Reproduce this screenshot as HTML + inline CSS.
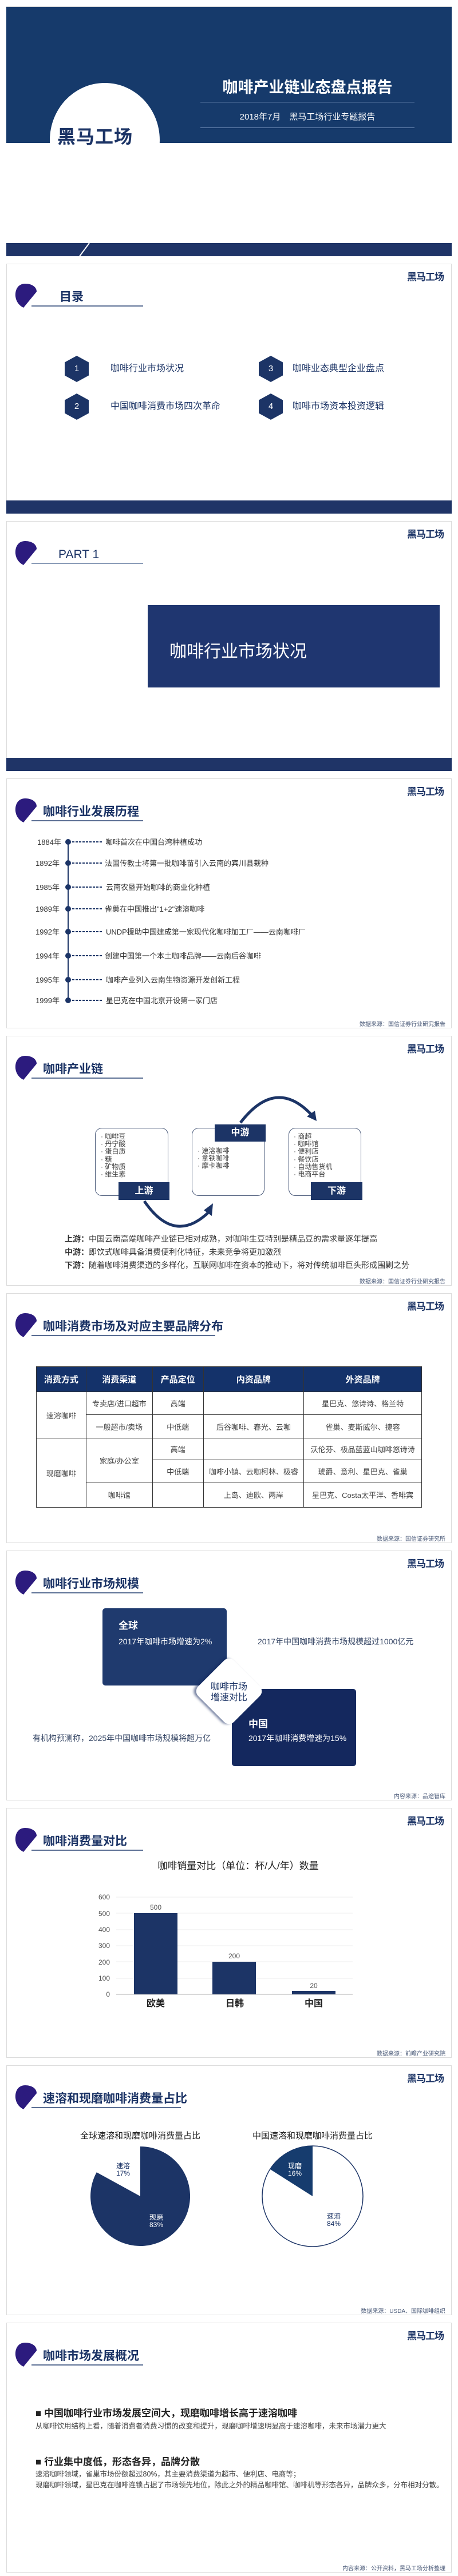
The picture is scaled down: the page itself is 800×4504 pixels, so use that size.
<!DOCTYPE html>
<html><head><meta charset="utf-8">
<style>
*{margin:0;padding:0;box-sizing:border-box}
body{width:800px;height:4504px;background:#fff;position:relative;overflow:hidden;font-family:"Liberation Sans","Noto Sans CJK SC",sans-serif;color:#333}
.s{position:absolute;left:0;width:800px;height:450px}
.fr{position:absolute;left:11px;top:11px;width:778px;height:437px;border:1px solid #dcdcdc}
.a{position:absolute;white-space:nowrap}
.band{position:absolute;left:11px;top:425px;width:778px;height:23px;background:#1f3467}
.logo{position:absolute;right:25px;top:20px;font-size:17px;font-weight:bold;color:#1c3466;letter-spacing:-1px}
.leaf{position:absolute;left:24px;top:44px}
.tt{position:absolute;left:75px;top:59px;font-size:21px;font-weight:bold;color:#1c3466;white-space:nowrap;line-height:1}
.ul{position:absolute;left:55px;top:84px;height:2px;background:#5b6f94;width:195px}
.src{position:absolute;right:22px;top:432px;font-size:10px;color:#4a5a78;white-space:nowrap}
.hex{position:absolute;width:42px;height:46px;background:#1c3466;clip-path:polygon(50% 0,100% 25%,100% 75%,50% 100%,0 75%,0 25%);color:#fff;font-size:15px;text-align:center;line-height:46px}
.it{position:absolute;font-size:16px;color:#1c3466;white-space:nowrap;line-height:1}
table{position:absolute;left:63px;top:139px;width:674px;border-collapse:collapse;font-size:13px;color:#444}
td,th{border:1px solid #333;text-align:center;padding:0}
th{background:#14326a;color:#fff;font-size:15px;height:44px}
</style></head><body>

<!-- Slide 1 -->
<div class="s" style="top:0">
<div class="fr"></div>
<div style="position:absolute;left:11px;top:12px;width:778px;height:238px;background:#163a6b"></div>
<div style="position:absolute;left:87px;top:145px;width:192px;height:200px;background:#fff;border-radius:50%"></div>
<div style="position:absolute;left:11px;top:250px;width:778px;height:175px;background:#fff"></div>
<div class="a" style="left:100px;top:214px;font-size:32px;font-weight:bold;color:#1c3466;letter-spacing:1px">黑马工场</div>
<div class="a" style="left:350px;top:131px;width:374px;text-align:center;font-size:27px;font-weight:bold;color:#fff">咖啡产业链业态盘点报告</div>
<div style="position:absolute;left:350px;top:178px;width:374px;height:1px;background:#8fa8d0"></div>
<div class="a" style="left:350px;top:193px;width:374px;text-align:center;font-size:15px;color:#fff">2018年7月　黑马工场行业专题报告</div>
<div style="position:absolute;left:350px;top:223px;width:374px;height:1px;background:#8fa8d0"></div>
<div class="band"></div>
<svg style="position:absolute;left:0;top:0" width="800" height="450"><line x1="156" y1="425" x2="139" y2="448" stroke="#fff" stroke-width="2"/></svg>
</div>

<!-- Slide 2 -->
<div class="s" style="top:450px">
<div class="fr"></div>
<div class="logo">黑马工场</div>
<svg class="leaf" width="44" height="46"><path d="M20 2 C8 2 2 12 3 24 C4 33 9 40 17 44 L40 16 C40 8 32 2 20 2 Z" fill="#2c1b7e"/></svg>
<div class="tt" style="left:104px">目录</div>
<div class="ul"></div>
<div class="hex" style="left:113px;top:172px">1</div>
<div class="it" style="left:193px;top:187px">咖啡行业市场状况</div>
<div class="hex" style="left:452px;top:172px">3</div>
<div class="it" style="left:511px;top:187px">咖啡业态典型企业盘点</div>
<div class="hex" style="left:113px;top:238px">2</div>
<div class="it" style="left:193px;top:253px">中国咖啡消费市场四次革命</div>
<div class="hex" style="left:452px;top:238px">4</div>
<div class="it" style="left:511px;top:253px">咖啡市场资本投资逻辑</div>
<div class="band"></div>
</div>

<!-- Slide 3 -->
<div class="s" style="top:900px">
<div class="fr"></div>
<div class="logo">黑马工场</div>
<svg class="leaf" width="44" height="46"><path d="M20 2 C8 2 2 12 3 24 C4 33 9 40 17 44 L40 16 C40 8 32 2 20 2 Z" fill="#2c1b7e"/></svg>
<div class="tt" style="left:102px;font-weight:normal">PART 1</div>
<div class="ul" style="background:#8a9bb8"></div>
<div style="position:absolute;left:258px;top:158px;width:510px;height:144px;background:#1f3670"></div>
<div class="a" style="left:296px;top:214px;font-size:30px;color:#fff">咖啡行业市场状况</div>
<div class="band"></div>
</div>

<!-- Slide 4 timeline -->
<div class="s" style="top:1350px">
<div class="fr"></div>
<div class="logo">黑马工场</div>
<svg class="leaf" width="44" height="46"><path d="M20 2 C8 2 2 12 3 24 C4 33 9 40 17 44 L40 16 C40 8 32 2 20 2 Z" fill="#2c1b7e"/></svg>
<div class="tt">咖啡行业发展历程</div>
<div class="ul"></div>
<svg style="position:absolute;left:0;top:0" width="800" height="450">
<line x1="119" y1="122" x2="119" y2="399" stroke="#1c3466" stroke-width="2"/>
<g fill="#1c3466">
<circle cx="119" cy="122" r="5"/><circle cx="119" cy="159" r="5"/><circle cx="119" cy="201" r="5"/><circle cx="119" cy="239" r="5"/><circle cx="119" cy="279" r="5"/><circle cx="119" cy="321" r="5"/><circle cx="119" cy="363" r="5"/><circle cx="119" cy="399" r="5"/>
</g>
<g stroke="#1c3466" stroke-width="2" stroke-dasharray="4 2">
<line x1="126" y1="122" x2="180" y2="122"/><line x1="126" y1="159" x2="180" y2="159"/><line x1="126" y1="201" x2="180" y2="201"/><line x1="126" y1="239" x2="180" y2="239"/><line x1="126" y1="279" x2="180" y2="279"/><line x1="126" y1="321" x2="180" y2="321"/><line x1="126" y1="363" x2="180" y2="363"/><line x1="126" y1="399" x2="180" y2="399"/>
</g>
<g font-size="13" fill="#333" font-family="Liberation Sans, Noto Sans CJK SC, sans-serif">
<g text-anchor="end">
<text x="107" y="127">1884年</text><text x="104" y="164">1892年</text><text x="104" y="206">1985年</text><text x="104" y="244">1989年</text><text x="104" y="284">1992年</text><text x="104" y="326">1994年</text><text x="104" y="368">1995年</text><text x="104" y="404">1999年</text></g>
<text x="184" y="127">咖啡首次在中国台湾种植成功</text>
<text x="183" y="164">法国传教士将第一批咖啡苗引入云南的宾川县栽种</text>
<text x="185" y="206">云南农垦开始咖啡的商业化种植</text>
<text x="183" y="244">雀巢在中国推出"1+2"速溶咖啡</text>
<text x="185" y="284">UNDP援助中国建成第一家现代化咖啡加工厂——云南咖啡厂</text>
<text x="183" y="326">创建中国第一个本土咖啡品牌——云南后谷咖啡</text>
<text x="185" y="368">咖啡产业列入云南生物资源开发创新工程</text>
<text x="185" y="404">星巴克在中国北京开设第一家门店</text>
</g></svg>
<div class="src">数据来源：国信证券行业研究报告</div>
</div>

<!-- Slide 5 chain -->
<div class="s" style="top:1800px">
<div class="fr"></div>
<div class="logo">黑马工场</div>
<svg class="leaf" width="44" height="46"><path d="M20 2 C8 2 2 12 3 24 C4 33 9 40 17 44 L40 16 C40 8 32 2 20 2 Z" fill="#2c1b7e"/></svg>
<div class="tt">咖啡产业链</div>
<div class="ul"></div>
<div style="position:absolute;left:166px;top:172px;width:128px;height:119px;border:1px solid #4a5a7a;border-radius:12px"></div>
<div style="position:absolute;left:335px;top:172px;width:127px;height:119px;border:1px solid #4a5a7a;border-radius:12px"></div>
<div style="position:absolute;left:504px;top:172px;width:127px;height:119px;border:1px solid #4a5a7a;border-radius:12px"></div>
<div class="a" style="left:207px;top:267px;width:89px;height:31px;background:#1c3466;color:#fff;font-weight:bold;font-size:16px;text-align:center;line-height:31px">上游</div>
<div class="a" style="left:375px;top:166px;width:89px;height:30px;background:#1c3466;color:#fff;font-weight:bold;font-size:16px;text-align:center;line-height:30px">中游</div>
<div class="a" style="left:543px;top:267px;width:90px;height:31px;background:#1c3466;color:#fff;font-weight:bold;font-size:16px;text-align:center;line-height:31px">下游</div>
<div class="a" style="left:176px;top:181px;font-size:12px;line-height:13.2px;color:#444">· 咖啡豆<br>· 丹宁酸<br>· 蛋白质<br>· 糖<br>· 矿物质<br>· 维生素</div>
<div class="a" style="left:345px;top:206px;font-size:12px;line-height:13.2px;color:#444">· 速溶咖啡<br>· 拿铁咖啡<br>· 摩卡咖啡</div>
<div class="a" style="left:513px;top:181px;font-size:12px;line-height:13.2px;color:#444">· 商超<br>· 咖啡馆<br>· 便利店<br>· 餐饮店<br>· 自动售货机<br>· 电商平台</div>
<svg style="position:absolute;left:0;top:0" width="800" height="450">
<path d="M252 300 Q305 378 366 318" stroke="#1c3466" stroke-width="5" fill="none"/>
<polygon points="372,304 370,326 356,316" fill="#1c3466"/>
<path d="M420 163 Q482 82 545 150" stroke="#1c3466" stroke-width="5" fill="none"/>
<polygon points="553,160 536,152 550,142" fill="#1c3466"/>
</svg>
<div class="a" style="left:113px;top:356px;font-size:14px;color:#333"><b>上游：</b>中国云南高端咖啡产业链已相对成熟，对咖啡生豆特别是精品豆的需求量逐年提高</div>
<div class="a" style="left:113px;top:379px;font-size:14px;color:#333"><b>中游：</b>即饮式咖啡具备消费便利化特征，未来竞争将更加激烈</div>
<div class="a" style="left:113px;top:402px;font-size:14px;color:#333"><b>下游：</b>随着咖啡消费渠道的多样化，互联网咖啡在资本的推动下，将对传统咖啡巨头形成围剿之势</div>
<div class="src">数据来源：国信证券行业研究报告</div>
</div>

<!-- Slide 6 table -->
<div class="s" style="top:2250px">
<div class="fr"></div>
<div class="logo">黑马工场</div>
<svg class="leaf" width="44" height="46"><path d="M20 2 C8 2 2 12 3 24 C4 33 9 40 17 44 L40 16 C40 8 32 2 20 2 Z" fill="#2c1b7e"/></svg>
<div class="tt">咖啡消费市场及对应主要品牌分布</div>
<div class="ul" style="width:321px"></div>
<table>
<colgroup><col style="width:87px"><col style="width:116px"><col style="width:89px"><col style="width:176px"><col style="width:206px"></colgroup>
<tr><th>消费方式</th><th>消费渠道</th><th>产品定位</th><th>内资品牌</th><th>外资品牌</th></tr>
<tr style="height:40px"><td rowspan="2">速溶咖啡</td><td>专卖店/进口超市</td><td>高端</td><td></td><td>星巴克、悠诗诗、格兰特</td></tr>
<tr style="height:41px"><td>一般超市/卖场</td><td>中低端</td><td>后谷咖啡、春光、云咖</td><td>雀巢、麦斯威尔、捷容</td></tr>
<tr style="height:38px"><td rowspan="3">现磨咖啡</td><td rowspan="2">家庭/办公室</td><td>高端</td><td></td><td>沃伦芬、极品蓝蓝山咖啡悠诗诗</td></tr>
<tr style="height:39px"><td>中低端</td><td>咖啡小镇、云咖柯林、极睿</td><td>琥爵、意利、星巴克、雀巢</td></tr>
<tr style="height:44px"><td>咖啡馆</td><td></td><td>上岛、迪欧、两岸</td><td>星巴克、Costa太平洋、香啡宾</td></tr>
</table>
<div class="src">数据来源：国信证券研究所</div>
</div>

<!-- Slide 7 market -->
<div class="s" style="top:2700px">
<div class="fr"></div>
<div class="logo">黑马工场</div>
<svg class="leaf" width="44" height="46"><path d="M20 2 C8 2 2 12 3 24 C4 33 9 40 17 44 L40 16 C40 8 32 2 20 2 Z" fill="#2c1b7e"/></svg>
<div class="tt">咖啡行业市场规模</div>
<div class="ul"></div>
<div style="position:absolute;left:179px;top:112px;width:217px;height:135px;background:#1f3a6e;border-radius:5px"></div>
<div style="position:absolute;left:405px;top:253px;width:217px;height:135px;background:#14285e;border-radius:5px"></div>
<div style="position:absolute;left:356px;top:213px;width:88px;height:88px;background:#fff;border-radius:12px;transform:rotate(45deg);box-shadow:-3px 3px 4px rgba(20,40,94,.6)"></div>
<div class="a" style="left:367px;top:240px;width:66px;text-align:center;font-size:16px;line-height:19px;color:#1c3466">咖啡市场<br>增速对比</div>
<div class="a" style="left:207px;top:128px;font-size:17px;font-weight:bold;color:#fff">全球</div>
<div class="a" style="left:207px;top:160px;font-size:14px;color:#fff">2017年咖啡市场增速为2%</div>
<div class="a" style="left:450px;top:160px;font-size:14px;color:#3a4a68">2017年中国咖啡消费市场规模超过1000亿元</div>
<div class="a" style="left:434px;top:300px;font-size:17px;font-weight:bold;color:#fff">中国</div>
<div class="a" style="left:434px;top:329px;font-size:14px;color:#fff">2017年咖啡消费增速为15%</div>
<div class="a" style="left:57px;top:329px;font-size:14px;color:#3a4a68">有机构预测称，2025年中国咖啡市场规模将超万亿</div>
<div class="src">内容来源：品途智库</div>
</div>

<!-- Slide 8 bars -->
<div class="s" style="top:3150px">
<div class="fr"></div>
<div class="logo">黑马工场</div>
<svg class="leaf" width="44" height="46"><path d="M20 2 C8 2 2 12 3 24 C4 33 9 40 17 44 L40 16 C40 8 32 2 20 2 Z" fill="#2c1b7e"/></svg>
<div class="tt">咖啡消费量对比</div>
<div class="ul"></div>
<svg style="position:absolute;left:0;top:0" width="800" height="450" font-family="Liberation Sans, Noto Sans CJK SC, sans-serif">
<text x="416" y="118" font-size="17" text-anchor="middle" fill="#222">咖啡销量对比（单位：杯/人/年）数量</text>
<g stroke="#eee" stroke-width="1">
<line x1="203" y1="167" x2="616" y2="167"/><line x1="203" y1="195" x2="616" y2="195"/><line x1="203" y1="224" x2="616" y2="224"/><line x1="203" y1="252" x2="616" y2="252"/><line x1="203" y1="280" x2="616" y2="280"/><line x1="203" y1="309" x2="616" y2="309"/></g>
<line x1="203" y1="337" x2="616" y2="337" stroke="#ccc" stroke-width="1.5"/>
<g font-size="12" fill="#555" text-anchor="end">
<text x="192" y="171">600</text><text x="192" y="200">500</text><text x="192" y="228">400</text><text x="192" y="256">300</text><text x="192" y="285">200</text><text x="192" y="313">100</text><text x="192" y="341">0</text></g>
<rect x="234" y="195" width="76" height="142" fill="#1c3466"/>
<rect x="371" y="280" width="76" height="57" fill="#1c3466"/>
<rect x="510" y="331" width="76" height="6" fill="#1c3466"/>
<g font-size="12" fill="#555" text-anchor="middle"><text x="272" y="189">500</text><text x="409" y="274">200</text><text x="548" y="326">20</text></g>
<g font-size="16" font-weight="bold" fill="#222" text-anchor="middle"><text x="272" y="358">欧美</text><text x="410" y="358">日韩</text><text x="548" y="358">中国</text></g>
</svg>
<div class="src">数据来源：前瞻产业研究院</div>
</div>

<!-- Slide 9 pies -->
<div class="s" style="top:3600px">
<div class="fr"></div>
<div class="logo">黑马工场</div>
<svg class="leaf" width="44" height="46"><path d="M20 2 C8 2 2 12 3 24 C4 33 9 40 17 44 L40 16 C40 8 32 2 20 2 Z" fill="#2c1b7e"/></svg>
<div class="tt">速溶和现磨咖啡消费量占比</div>
<div class="ul" style="width:261px"></div>
<svg style="position:absolute;left:0;top:0" width="800" height="450" font-family="Liberation Sans, Noto Sans CJK SC, sans-serif">
<text x="245" y="139" font-size="15" text-anchor="middle" fill="#222">全球速溶和现磨咖啡消费量占比</text>
<text x="546" y="139" font-size="15" text-anchor="middle" fill="#222">中国速溶和现磨咖啡消费量占比</text>
<path d="M245 240 L245 153 A87 87 0 1 1 168.8 198.1 Z" fill="#1c3466"/>
<circle cx="546" cy="240" r="88" fill="#fff" stroke="#1c3466" stroke-width="1.5"/>
<path d="M546 240 L546 152 A88 88 0 0 0 471.7 192.8 Z" fill="#163c6e"/>
<g font-size="12" text-anchor="middle">
<text x="215" y="191" fill="#1c3466">速溶</text><text x="215" y="204" fill="#1c3466">17%</text>
<text x="273" y="281" fill="#fff">现磨</text><text x="273" y="294" fill="#fff">83%</text>
<text x="515" y="191" fill="#fff">现磨</text><text x="515" y="204" fill="#fff">16%</text>
<text x="583" y="279" fill="#1c3466">速溶</text><text x="583" y="292" fill="#1c3466">84%</text></g>
</svg>
<div class="src">数据来源：USDA、国际咖啡组织</div>
</div>

<!-- Slide 10 overview -->
<div class="s" style="top:4050px">
<div class="fr"></div>
<div class="logo">黑马工场</div>
<svg class="leaf" width="44" height="46"><path d="M20 2 C8 2 2 12 3 24 C4 33 9 40 17 44 L40 16 C40 8 32 2 20 2 Z" fill="#2c1b7e"/></svg>
<div class="tt">咖啡市场发展概况</div>
<div class="ul"></div>
<div class="a" style="left:62px;top:155px;font-size:17px;font-weight:bold;color:#222">■ 中国咖啡行业市场发展空间大，现磨咖啡增长高于速溶咖啡</div>
<div class="a" style="left:62px;top:181px;font-size:12.5px;color:#444">从咖啡饮用结构上看，随着消费者消费习惯的改变和提升，现磨咖啡增速明显高于速溶咖啡，未来市场潜力更大</div>
<div class="a" style="left:62px;top:240px;font-size:17px;font-weight:bold;color:#222">■ 行业集中度低，形态各异，品牌分散</div>
<div class="a" style="left:62px;top:265px;font-size:12.5px;color:#444">速溶咖啡领域，雀巢市场份额超过80%，其主要消费渠道为超市、便利店、电商等；</div>
<div class="a" style="left:62px;top:284px;font-size:12.5px;color:#444">现磨咖啡领域，星巴克在咖啡连锁占据了市场领先地位，除此之外的精品咖啡馆、咖啡机等形态各异，品牌众多，分布相对分散。</div>
<div class="src">内容来源：公开资料，黑马工场分析整理</div>
</div>

</body></html>
